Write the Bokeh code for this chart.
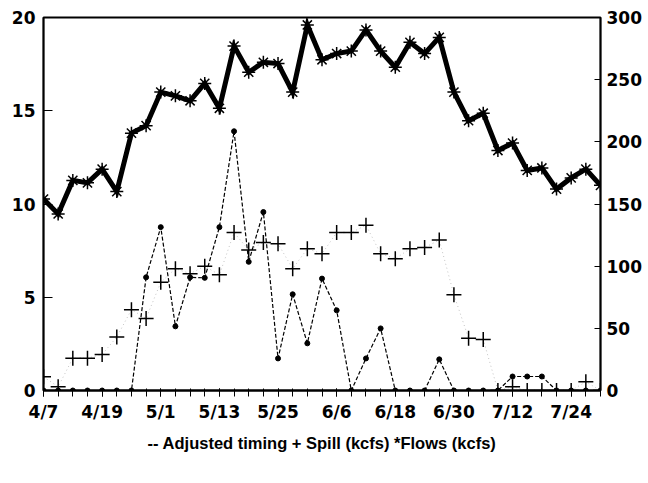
from bokeh.plotting import figure
from bokeh.models import Range1d, LinearAxis, FixedTicker, Title
from bokeh.embed import file_html
from bokeh.resources import INLINE

# ---- data ----
dates = ["4/7", "4/10", "4/13", "4/16", "4/19", "4/22", "4/25", "4/28",
         "5/1", "5/4", "5/7", "5/10", "5/13", "5/16", "5/19", "5/22",
         "5/25", "5/28", "5/31", "6/3", "6/6", "6/9", "6/12", "6/15",
         "6/18", "6/21", "6/24", "6/27", "6/30", "7/3", "7/6", "7/9",
         "7/12", "7/15", "7/18", "7/21", "7/24", "7/27", "7/30"]
tick_labels = ["4/7", "4/19", "5/1", "5/13", "5/25", "6/6", "6/18", "6/30", "7/12", "7/24"]

flows_kcfs = [154, 142, 169, 167, 178, 160, 207, 213, 240, 237, 233, 247, 227,
              277, 256, 264, 263, 240, 294, 266, 271, 273, 290, 273, 260, 280,
              271, 284, 240, 217, 223, 193, 199, 177, 179, 162, 171, 178, 165]
spill_kcfs = [11, 3, 26, 26, 29, 43, 65, 58, 87, 98, 94, 100, 93, 127, 113, 119,
              118, 98, 114, 110, 127, 127, 133, 110, 106, 114, 115, 121, 77, 42,
              41, 0, 3, 0, 0, 0, 0, 7, 0]
adjusted_timing = [0, 0, 0, 0, 0, 0, 0, 6.07, 8.76, 3.44, 6.07, 6.04, 8.76, 13.9,
                   6.9, 9.57, 1.72, 5.16, 2.53, 6.0, 4.3, 0, 1.72, 3.33, 0, 0, 0,
                   1.67, 0, 0, 0, 0, 0.75, 0.75, 0.75, 0, 0, 0, 0]
left_ticks = [0, 5, 10, 15, 20]
right_ticks = [0, 50, 100, 150, 200, 250, 300]
legend_text = "-- Adjusted timing + Spill (kcfs) *Flows (kcfs)"

x = list(range(len(dates)))
major_idx = [dates.index(t) for t in tick_labels]

AXFONT = "DejaVu Sans"
FONT = "Liberation Sans"

p = figure(output_backend="svg", toolbar_location=None,
           frame_width=557, frame_height=373,
           x_range=Range1d(0, len(dates) - 1), y_range=Range1d(0, 20),
           min_border_left=43, min_border_top=17, min_border_right=2,
           min_border_bottom=10, background_fill_color="white",
           border_fill_color="white")
p.extra_y_ranges = {"right": Range1d(0, 300)}
p.xgrid.visible = False
p.ygrid.visible = False
p.outline_line_color = "black"
p.outline_line_width = 2

# x axis
xa = p.xaxis[0]
xa.ticker = FixedTicker(ticks=major_idx, minor_ticks=x)
xa.major_label_overrides = {i: d for i, d in zip(major_idx, tick_labels)}
xa.axis_line_width = 2
xa.major_tick_in = 2
xa.major_tick_out = 6
xa.minor_tick_in = 2
xa.minor_tick_out = 6
xa.major_label_standoff = 5
xa.major_label_text_font = AXFONT
xa.major_label_text_font_style = "bold"
xa.major_label_text_font_size = "17px"
xa.major_label_text_color = "black"

# left axis
ya = p.yaxis[0]
ya.ticker = FixedTicker(ticks=left_ticks)
ya.major_tick_in = 9
ya.major_tick_out = 0
ya.minor_tick_line_color = None
ya.axis_line_width = 1.5
ya.major_label_standoff = 8
ya.major_label_text_font = AXFONT
ya.major_label_text_font_style = "bold"
ya.major_label_text_font_size = "17px"
ya.major_label_text_color = "black"

# right axis
ra = LinearAxis(y_range_name="right", ticker=FixedTicker(ticks=right_ticks))
ra.major_tick_in = 6
ra.major_tick_out = 0
ra.minor_tick_line_color = None
ra.axis_line_width = 1.5
ra.major_label_standoff = 6
ra.major_label_text_font = AXFONT
ra.major_label_text_font_style = "bold"
ra.major_label_text_font_size = "17px"
ra.major_label_text_color = "black"
p.add_layout(ra, "right")

# spill (+) with faint dotted connector
p.line(x, spill_kcfs, y_range_name="right", line_color="black",
       line_width=0.8, line_dash="1 3", line_alpha=0.3)
p.scatter(x, spill_kcfs, y_range_name="right", marker="cross", size=15,
          line_color="black", line_width=1.5)

# adjusted timing (dashed, dots)
p.line(x, adjusted_timing, line_color="black", line_width=1.2, line_dash="4 2")
p.scatter(x, adjusted_timing, marker="circle", size=5, fill_color="black",
          line_color="black")

# flows (thick line with asterisks)
p.line(x, flows_kcfs, y_range_name="right", line_color="black", line_width=5,
       line_join="miter")
p.scatter(x, flows_kcfs, y_range_name="right", marker="asterisk", size=13,
          line_color="black", line_width=1.5)

p.add_layout(Title(text=legend_text, align="center", text_font=FONT,
                   text_font_style="bold", text_font_size="16.5px",
                   text_color="black", standoff=14), "below")

open("out.html", "w").write(file_html(p, INLINE))
